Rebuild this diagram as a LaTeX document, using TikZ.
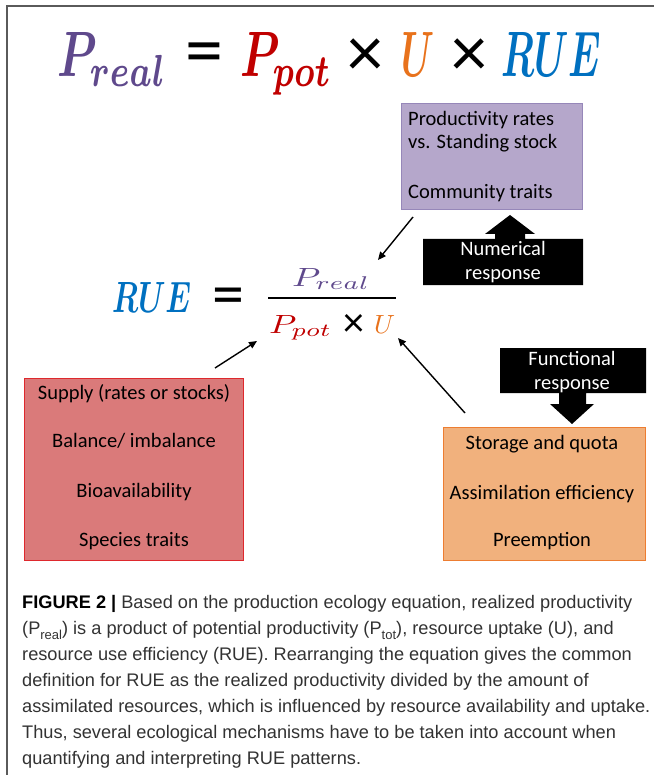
\documentclass[tikz,border=0pt]{standalone}
\usepackage{fontspec}
\usepackage{graphicx}
\setmainfont{Carlito}
\newfontfamily\capfont{Liberation Sans}
\usetikzlibrary{arrows.meta}
\definecolor{cpreal}{RGB}{95,73,140}
\definecolor{cppot}{RGB}{192,0,0}
\definecolor{cu}{RGB}{232,114,28}
\definecolor{crue}{RGB}{0,112,192}
\definecolor{pfill}{RGB}{181,167,203}
\definecolor{pdraw}{RGB}{150,135,185}
\definecolor{rfill}{RGB}{218,122,122}
\definecolor{rdraw}{RGB}{222,40,45}
\definecolor{ofill}{RGB}{241,177,125}
\definecolor{odraw}{RGB}{237,125,49}
\definecolor{framec}{RGB}{90,90,90}
\definecolor{capc}{RGB}{50,50,50}
\newcommand{\capsub}[1]{\raisebox{-0.28em}{\fontsize{13}{13}\selectfont #1}}
\newcommand{\bm}[1]{{\boldmath$#1$}}
\begin{document}
\begin{tikzpicture}[x=1pt,y=-1pt,
  eq/.style={inner sep=0pt, anchor=base west},
  op/.style={inner sep=0pt, anchor=center},
  arr/.style={line width=1.4pt, -{Triangle[length=8pt,width=7pt]}},
  box/.style={line width=1pt, inner sep=0pt, anchor=north west},
  btxt/.style={font=\fontsize{20.5}{22}\selectfont, inner sep=0pt, text height=13.5pt, text depth=4.5pt},
  blockarrow/.style={fill=black},
  captxt/.style={font=\capfont\fontsize{18.2}{20}\selectfont, text=capc, inner sep=0pt, anchor=base west}]
\useasboundingbox (0,0) rectangle (654,775);
\draw[framec, line width=1.2pt] (7,775) -- (7,6) -- (654,6);

% top equation
\node[eq, text=cpreal] (t1) at (57,77) {\resizebox{110pt}{44pt}{\bm{P_{real}}}};
\node[op] (t2) at (204.5,59) {\fontsize{76}{76}\selectfont =};
\node[eq, text=cppot] (t3) at (240,77) {\resizebox{92pt}{44pt}{\bm{P_{pot}}}};
\node[op] (t4) at (365.5,57.5) {\fontsize{72}{72}\selectfont ×};
\node[eq, text=cu] (t5) at (401,77) {\resizebox{33pt}{44pt}{\bm{U}}};
\node[op] (t6) at (469.5,57.5) {\fontsize{72}{72}\selectfont ×};
\node[eq, text=crue] (t7) at (501,77) {\resizebox{100pt}{44pt}{\bm{RUE}}};

% RUE equation
\node[eq, text=crue] (r1) at (112,312) {\resizebox{79pt}{30pt}{\bm{RUE}}};
\node[op] (r2) at (228.5,301.5) {\fontsize{64}{64}\selectfont =};
\node[eq, text=cpreal] (num) at (292,286) {\resizebox{78pt}{18pt}{$P_{real}$}};
\coordinate (barl) at (268,298);
\coordinate (barr) at (396,298);
\draw[line width=1.6pt] (barl) -- (barr);
\node[eq, text=cppot] (den1) at (269,333) {\resizebox{63pt}{18pt}{$P_{pot}$}};
\node[op] (den2) at (353.5,325) {\fontsize{42}{42}\selectfont ×};
\node[eq, text=cu] (den3) at (374,333) {\resizebox{21pt}{18pt}{$U$}};

% boxes
\node[box, draw=pdraw, fill=pfill, minimum width=181pt, minimum height=106pt] (pbox) at (401,103) {};
\node[btxt, anchor=west] (p1) at (408,121) {Productivity rates};
\node[btxt, anchor=west] (p2) at (408,144) {vs. Standing stock};
\node[btxt, anchor=west] (p3) at (408,194) {Community traits};

\node[box, draw=rdraw, fill=rfill, minimum width=219pt, minimum height=182pt] (rbox) at (24,378) {};
\node[btxt] (r1t) at (134,395) {Supply (rates or stocks)};
\node[btxt] (r2t) at (134,443) {Balance/ imbalance};
\node[btxt] (r3t) at (134,493) {Bioavailability};
\node[btxt] (r4t) at (134,542) {Species traits};

\node[box, draw=odraw, fill=ofill, minimum width=202pt, minimum height=133pt] (obox) at (443,427) {};
\node[btxt] (o1t) at (542,445) {Storage and quota};
\node[btxt] (o2t) at (542,495) {Assimilation efficiency};
\node[btxt] (o3t) at (542,542) {Preemption};

% block arrows
\fill[blockarrow] (423,285) -- (423,239) -- (495,239) -- (495,234) -- (485,234) -- (510,215) -- (535,234) -- (525,234) -- (525,239) -- (583,239) -- (583,285) -- cycle;
\node[btxt, text=white] (n1) at (503,251) {Numerical};
\node[btxt, text=white] (n2) at (503,275) {response};

\fill[blockarrow] (500,348) -- (646,348) -- (646,393) -- (586,393) -- (586,404) -- (594,404) -- (572,424) -- (550,404) -- (559,404) -- (559,393) -- (500,393) -- cycle;
\node[btxt, text=white] (f1) at (572,361) {Functional};
\node[btxt, text=white] (f2) at (572,385) {response};

% thin arrows
\coordinate (a1s) at (413,217);
\coordinate (a1e) at (378,260);
\coordinate (a2s) at (215,368);
\coordinate (a2e) at (257,341);
\coordinate (a3s) at (465,413);
\coordinate (a3e) at (398,338);
\draw[arr] (a1s) -- (a1e);
\draw[arr] (a2s) -- (a2e);
\draw[arr] (a3s) -- (a3e);

% caption
\node[captxt] (c1) at (22,608) {\textbf{\color{black}FIGURE 2 |} Based on the production ecology equation, realized productivity};
\node[captxt] (c2) at (22,634) {(P\capsub{real}) is a product of potential productivity (P\capsub{tot}), resource uptake (U), and};
\node[captxt] (c3) at (22,660) {resource use efficiency (RUE). Rearranging the equation gives the common};
\node[captxt] (c4) at (22,686) {definition for RUE as the realized productivity divided by the amount of};
\node[captxt] (c5) at (22,712) {assimilated resources, which is influenced by resource availability and uptake.};
\node[captxt] (c6) at (22,738) {Thus, several ecological mechanisms have to be taken into account when};
\node[captxt] (c7) at (22,764) {quantifying and interpreting RUE patterns.};
\end{tikzpicture}
\end{document}
